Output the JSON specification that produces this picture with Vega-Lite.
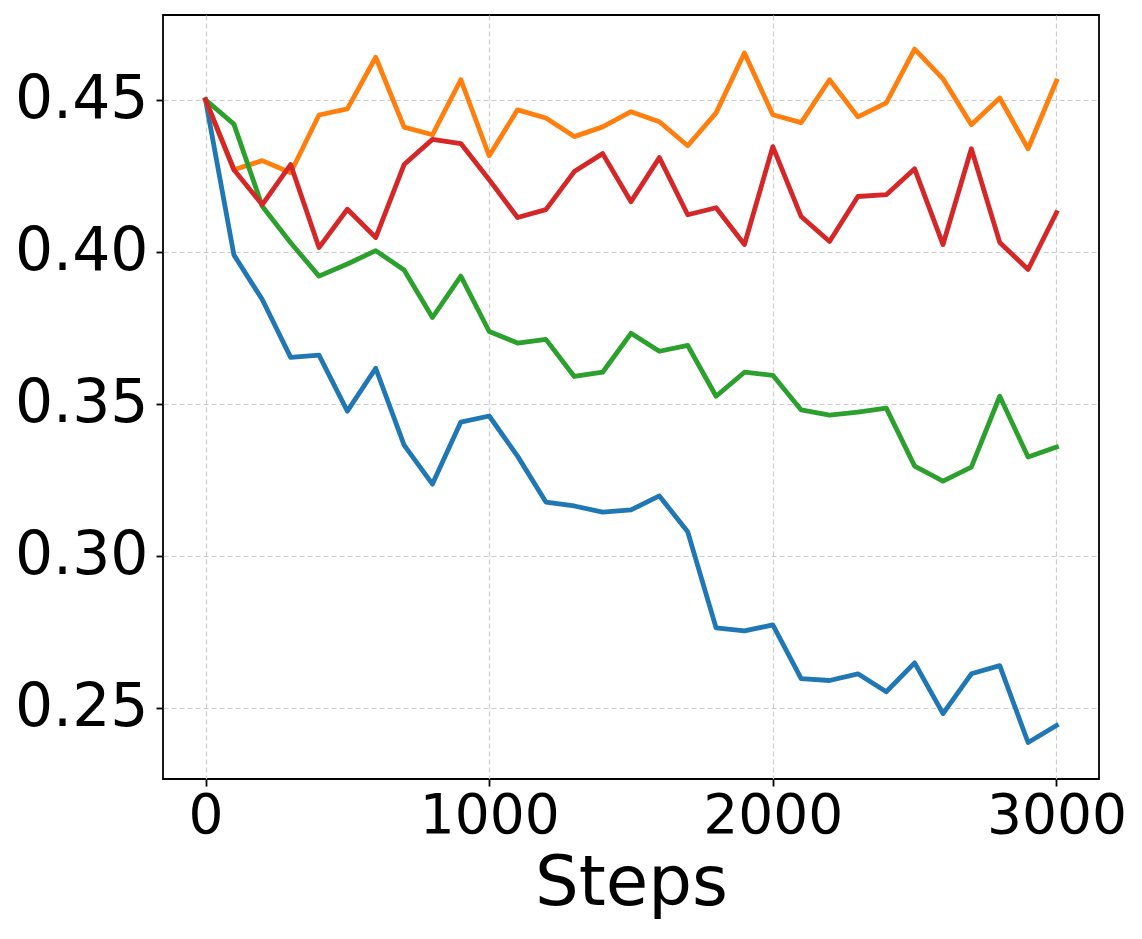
{
  "$schema": "https://vega.github.io/schema/vega-lite/v6.json",
  "width": 936,
  "height": 764,
  "autosize": {"type": "none"},
  "padding": {"left": 163, "top": 15, "right": 43, "bottom": 160},
  "background": "white",
  "config": {
    "font": "DejaVu Sans",
    "view": {"stroke": "black", "strokeWidth": 1.8},
    "axis": {
      "domain": false,
      "grid": true,
      "gridColor": "#cccccc",
      "gridOpacity": 1,
      "gridDash": [5, 3],
      "gridWidth": 1.2,
      "tickColor": "black",
      "tickSize": 7,
      "tickWidth": 1.8,
      "labelColor": "black",
      "labelFont": "DejaVu Sans",
      "titleColor": "black",
      "titleFont": "DejaVu Sans",
      "titleFontWeight": "normal"
    }
  },
  "data": {
    "values": [
      {"step": 0, "series": "s1", "value": 0.45},
      {"step": 100, "series": "s1", "value": 0.399},
      {"step": 200, "series": "s1", "value": 0.3843},
      {"step": 300, "series": "s1", "value": 0.3653},
      {"step": 400, "series": "s1", "value": 0.366},
      {"step": 500, "series": "s1", "value": 0.3476},
      {"step": 600, "series": "s1", "value": 0.3617},
      {"step": 700, "series": "s1", "value": 0.3364},
      {"step": 800, "series": "s1", "value": 0.3236},
      {"step": 900, "series": "s1", "value": 0.344},
      {"step": 1000, "series": "s1", "value": 0.346},
      {"step": 1100, "series": "s1", "value": 0.3328},
      {"step": 1200, "series": "s1", "value": 0.3177},
      {"step": 1300, "series": "s1", "value": 0.3164},
      {"step": 1400, "series": "s1", "value": 0.3144},
      {"step": 1500, "series": "s1", "value": 0.3151},
      {"step": 1600, "series": "s1", "value": 0.3197},
      {"step": 1700, "series": "s1", "value": 0.3079},
      {"step": 1800, "series": "s1", "value": 0.2763},
      {"step": 1900, "series": "s1", "value": 0.2753},
      {"step": 2000, "series": "s1", "value": 0.2773},
      {"step": 2100, "series": "s1", "value": 0.2596},
      {"step": 2200, "series": "s1", "value": 0.259},
      {"step": 2300, "series": "s1", "value": 0.2612},
      {"step": 2400, "series": "s1", "value": 0.2553},
      {"step": 2500, "series": "s1", "value": 0.2648},
      {"step": 2600, "series": "s1", "value": 0.2481},
      {"step": 2700, "series": "s1", "value": 0.2612},
      {"step": 2800, "series": "s1", "value": 0.2639},
      {"step": 2900, "series": "s1", "value": 0.2386},
      {"step": 3000, "series": "s1", "value": 0.2442},

      {"step": 0, "series": "s2", "value": 0.45},
      {"step": 100, "series": "s2", "value": 0.427},
      {"step": 200, "series": "s2", "value": 0.430},
      {"step": 300, "series": "s2", "value": 0.426},
      {"step": 400, "series": "s2", "value": 0.445},
      {"step": 500, "series": "s2", "value": 0.447},
      {"step": 600, "series": "s2", "value": 0.464},
      {"step": 700, "series": "s2", "value": 0.441},
      {"step": 800, "series": "s2", "value": 0.4385},
      {"step": 900, "series": "s2", "value": 0.4566},
      {"step": 1000, "series": "s2", "value": 0.4316},
      {"step": 1100, "series": "s2", "value": 0.4467},
      {"step": 1200, "series": "s2", "value": 0.444},
      {"step": 1300, "series": "s2", "value": 0.4379},
      {"step": 1400, "series": "s2", "value": 0.4411},
      {"step": 1500, "series": "s2", "value": 0.4461},
      {"step": 1600, "series": "s2", "value": 0.4428},
      {"step": 1700, "series": "s2", "value": 0.4349},
      {"step": 1800, "series": "s2", "value": 0.4457},
      {"step": 1900, "series": "s2", "value": 0.4654},
      {"step": 2000, "series": "s2", "value": 0.4451},
      {"step": 2100, "series": "s2", "value": 0.4425},
      {"step": 2200, "series": "s2", "value": 0.4566},
      {"step": 2300, "series": "s2", "value": 0.4444},
      {"step": 2400, "series": "s2", "value": 0.449},
      {"step": 2500, "series": "s2", "value": 0.4667},
      {"step": 2600, "series": "s2", "value": 0.4569},
      {"step": 2700, "series": "s2", "value": 0.4418},
      {"step": 2800, "series": "s2", "value": 0.4506},
      {"step": 2900, "series": "s2", "value": 0.4339},
      {"step": 3000, "series": "s2", "value": 0.4562},

      {"step": 0, "series": "s3", "value": 0.45},
      {"step": 100, "series": "s3", "value": 0.442},
      {"step": 200, "series": "s3", "value": 0.415},
      {"step": 300, "series": "s3", "value": 0.403},
      {"step": 400, "series": "s3", "value": 0.392},
      {"step": 500, "series": "s3", "value": 0.396},
      {"step": 600, "series": "s3", "value": 0.4004},
      {"step": 700, "series": "s3", "value": 0.394},
      {"step": 800, "series": "s3", "value": 0.3784},
      {"step": 900, "series": "s3", "value": 0.392},
      {"step": 1000, "series": "s3", "value": 0.3738},
      {"step": 1100, "series": "s3", "value": 0.370},
      {"step": 1200, "series": "s3", "value": 0.3712},
      {"step": 1300, "series": "s3", "value": 0.359},
      {"step": 1400, "series": "s3", "value": 0.3604},
      {"step": 1500, "series": "s3", "value": 0.3732},
      {"step": 1600, "series": "s3", "value": 0.3673},
      {"step": 1700, "series": "s3", "value": 0.3692},
      {"step": 1800, "series": "s3", "value": 0.3525},
      {"step": 1900, "series": "s3", "value": 0.3604},
      {"step": 2000, "series": "s3", "value": 0.3594},
      {"step": 2100, "series": "s3", "value": 0.348},
      {"step": 2200, "series": "s3", "value": 0.3463},
      {"step": 2300, "series": "s3", "value": 0.3473},
      {"step": 2400, "series": "s3", "value": 0.3486},
      {"step": 2500, "series": "s3", "value": 0.3295},
      {"step": 2600, "series": "s3", "value": 0.3246},
      {"step": 2700, "series": "s3", "value": 0.3292},
      {"step": 2800, "series": "s3", "value": 0.3525},
      {"step": 2900, "series": "s3", "value": 0.3325},
      {"step": 3000, "series": "s3", "value": 0.3358},

      {"step": 0, "series": "s4", "value": 0.45},
      {"step": 100, "series": "s4", "value": 0.427},
      {"step": 200, "series": "s4", "value": 0.4155},
      {"step": 300, "series": "s4", "value": 0.4287},
      {"step": 400, "series": "s4", "value": 0.4014},
      {"step": 500, "series": "s4", "value": 0.414},
      {"step": 600, "series": "s4", "value": 0.4047},
      {"step": 700, "series": "s4", "value": 0.4287},
      {"step": 800, "series": "s4", "value": 0.437},
      {"step": 900, "series": "s4", "value": 0.4356},
      {"step": 1000, "series": "s4", "value": 0.4237},
      {"step": 1100, "series": "s4", "value": 0.4113},
      {"step": 1200, "series": "s4", "value": 0.4139},
      {"step": 1300, "series": "s4", "value": 0.4264},
      {"step": 1400, "series": "s4", "value": 0.4323},
      {"step": 1500, "series": "s4", "value": 0.4165},
      {"step": 1600, "series": "s4", "value": 0.431},
      {"step": 1700, "series": "s4", "value": 0.4122},
      {"step": 1800, "series": "s4", "value": 0.4145},
      {"step": 1900, "series": "s4", "value": 0.4024},
      {"step": 2000, "series": "s4", "value": 0.4346},
      {"step": 2100, "series": "s4", "value": 0.4116},
      {"step": 2200, "series": "s4", "value": 0.4034},
      {"step": 2300, "series": "s4", "value": 0.4182},
      {"step": 2400, "series": "s4", "value": 0.4188},
      {"step": 2500, "series": "s4", "value": 0.4273},
      {"step": 2600, "series": "s4", "value": 0.4024},
      {"step": 2700, "series": "s4", "value": 0.4339},
      {"step": 2800, "series": "s4", "value": 0.4031},
      {"step": 2900, "series": "s4", "value": 0.3942},
      {"step": 3000, "series": "s4", "value": 0.4129}
    ]
  },
  "mark": {"type": "line", "strokeWidth": 4.8, "strokeJoin": "round", "strokeCap": "square", "clip": true},
  "encoding": {
    "x": {
      "field": "step",
      "type": "quantitative",
      "scale": {"domain": [-150, 3150], "nice": false, "zero": false},
      "axis": {"values": [0, 1000, 2000, 3000], "format": "d", "title": "Steps", "titleFontSize": 69, "titlePadding": 6, "labelFontSize": 55, "labelPadding": 3}
    },
    "y": {
      "field": "value",
      "type": "quantitative",
      "scale": {"domain": [0.2266, 0.4779], "nice": false, "zero": false},
      "axis": {"values": [0.25, 0.3, 0.35, 0.4, 0.45], "format": ".2f", "title": null, "labelFontSize": 60, "labelPadding": 8}
    },
    "color": {
      "field": "series",
      "type": "nominal",
      "scale": {"domain": ["s1", "s2", "s3", "s4"], "range": ["#1f77b4", "#ff7f0e", "#2ca02c", "#d62728"]},
      "legend": null
    }
  }
}
